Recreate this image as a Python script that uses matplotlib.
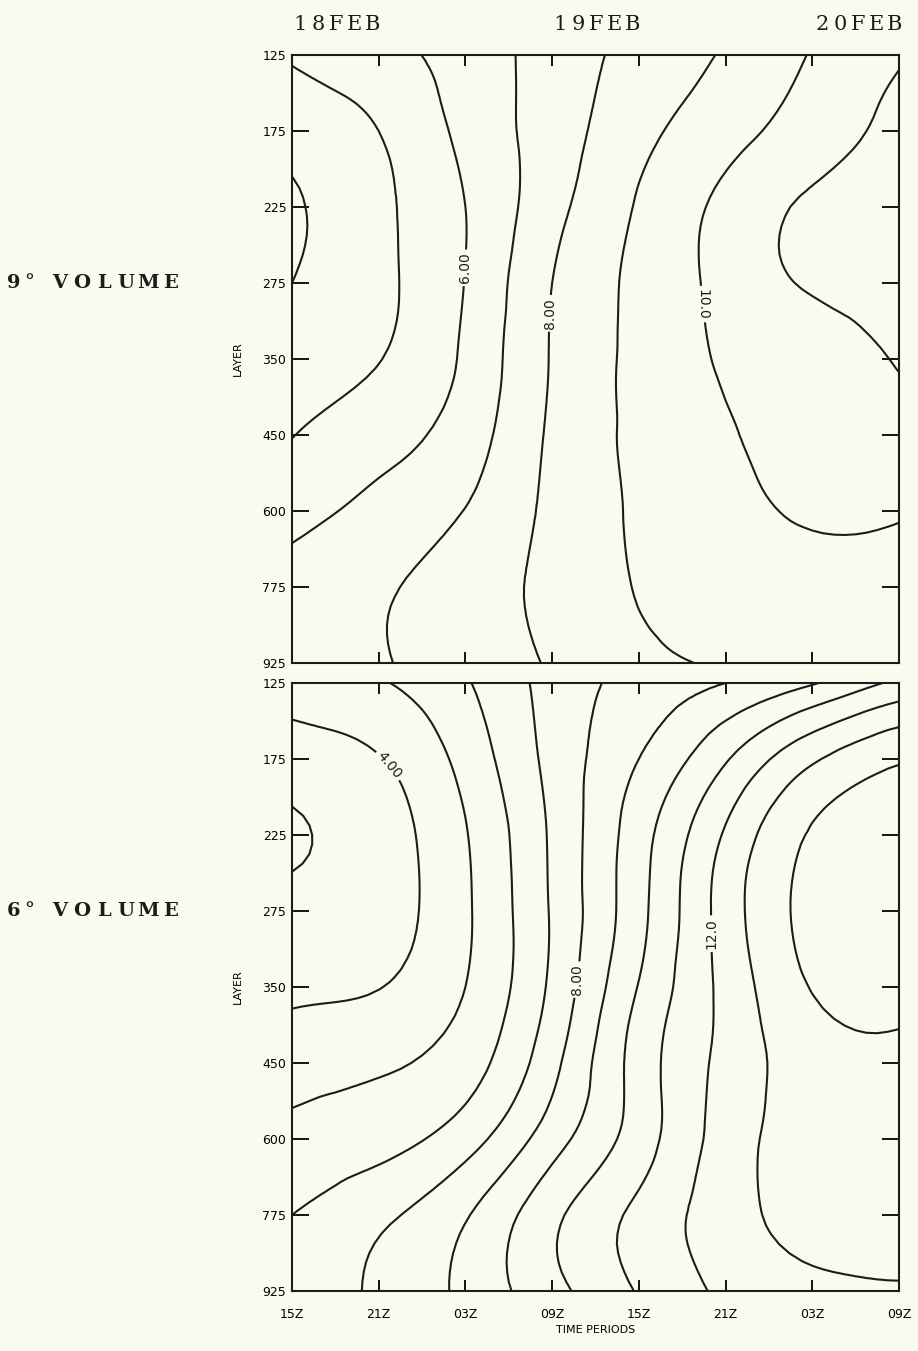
import numpy as np
import matplotlib
matplotlib.use('Agg')
import matplotlib.pyplot as plt
import matplotlib.tri as mtri

# axis labels
times = ['15Z', '21Z', '03Z', '09Z', '15Z', '21Z', '03Z', '09Z']
layers = ['125', '175', '225', '275', '350', '450', '600', '775', '925']
days = ['18FEB', '19FEB', '20FEB']

# 9 deg volume, rows = layers (top to bottom), cols = time periods
vol9 = np.array([
    [5.10, 5.66, 6.43, 7.43, 8.33, 9.10, 10.06, 10.90],
    [4.40, 5.00, 6.26, 7.49, 8.71, 9.62, 10.51, 11.30],
    [3.84, 4.79, 6.00, 7.67, 9.09, 10.26, 11.15, 11.30],
    [4.00, 4.80, 6.03, 8.00, 9.22, 10.33, 11.10, 11.30],
    [4.45, 4.97, 6.17, 8.07, 9.23, 10.13, 10.60, 11.05],
    [4.97, 5.62, 6.50, 8.16, 9.18, 9.88, 10.50, 10.70],
    [5.70, 6.27, 7.03, 8.23, 9.12, 9.65, 10.15, 10.10],
    [6.30, 6.85, 7.50, 8.27, 9.05, 9.40, 9.60, 9.60],
    [6.40, 6.90, 7.51, 8.09, 8.80, 9.06, 9.30, 9.40],
])

# 6 deg volume
vol6 = np.array([
    [4.40, 4.91, 5.90, 7.37, 8.32, 9.00, 9.91, 11.20],
    [3.55, 3.95, 5.34, 7.30, 9.00, 10.90, 12.85, 13.90],
    [2.85, 3.50, 4.94, 7.15, 9.57, 12.12, 14.10, 14.40],
    [3.30, 3.55, 4.85, 7.10, 9.70, 12.45, 14.30, 14.50],
    [3.75, 3.97, 5.00, 7.20, 10.05, 12.30, 14.05, 14.30],
    [4.65, 4.85, 5.55, 7.70, 10.43, 12.30, 13.55, 13.80],
    [5.25, 5.63, 6.56, 8.56, 10.50, 12.45, 13.50, 13.70],
    [6.00, 6.77, 7.91, 9.75, 11.24, 12.57, 13.40, 13.50],
    [6.30, 7.18, 8.25, 9.67, 11.07, 12.20, 12.70, 12.90],
])

levels9 = [4, 5, 6, 7, 8, 9, 10, 11]
levels6 = [3, 4, 5, 6, 7, 8, 9, 10, 11, 12, 13, 14]

bg = '#fbfaef'
ink = '#1c1c1c'

fig = plt.figure(figsize=(9.18, 13.51), dpi=100, facecolor=bg)
W, H = 918.0, 1351.0

def spaced(xs, y, s, **kw):
    # typewriter style text, one char at a time at given pixel x
    for x, c in zip(xs, s):
        fig.text(x / W, 1 - y / H, c, ha='center', va='center',
                 family='DejaVu Serif', color=ink, **kw)

def draw_panel(ax, z, levels, labels, rots):
    xs, ys = np.meshgrid(np.arange(len(times)), np.arange(len(layers)))
    tri = mtri.Triangulation(xs.ravel().astype(float), ys.ravel().astype(float))
    interp = mtri.CubicTriInterpolator(tri, z.ravel(), kind='min_E')
    refiner = mtri.UniformTriRefiner(tri)
    tri_r, z_r = refiner.refine_field(z.ravel(), triinterpolator=interp, subdiv=3)
    labelled = [lv for lv, s, p in labels]
    plain = [lv for lv in levels if lv not in labelled]
    ax.tricontour(tri_r, z_r, levels=plain, colors=ink, linewidths=1.5)
    # one contour set per labelled level (clabel manual needs that)
    for lv, s, p in labels:
        cs = ax.tricontour(tri_r, z_r, levels=[lv], colors=ink, linewidths=1.5)
        txts = ax.clabel(cs, fmt={lv: s}, inline=True, fontsize=10,
                         manual=[p], inline_spacing=3)
        for t in txts:
            t.set_rotation(rots[s])
    ax.set_xlim(0, len(times) - 1)
    ax.set_ylim(len(layers) - 1, 0)
    ax.set_facecolor(bg)
    ax.set_yticks(range(len(layers)))
    ax.set_yticklabels(layers, fontsize=9)
    ax.set_xticks(range(len(times)))
    ax.tick_params(axis='y', direction='in', length=12, width=1.3, right=True, pad=4)
    ax.tick_params(axis='x', direction='in', length=8, width=1.3, top=True, pad=12)
    for sp in ax.spines.values():
        sp.set_linewidth(1.5)
        sp.set_color(ink)
    ax.set_ylabel('LAYER', fontsize=8, labelpad=14)

left = 292 / W
width = (899 - 292) / W
ax1 = fig.add_axes([left, 1 - 663 / H, width, 608 / H])
ax2 = fig.add_axes([left, 1 - 1291 / H, width, 608 / H])

draw_panel(ax1, vol9, levels9,
           [(6, '6.00', (2.0, 2.8)), (8, '8.00', (3.0, 3.4)), (10, '10.0', (4.57, 3.3))],
           {'6.00': 90, '8.00': 90, '10.0': -90})
draw_panel(ax2, vol6, levels6,
           [(4, '4.00', (1.1, 1.1)), (8, '8.00', (3.27, 3.9)), (12, '12.0', (4.8, 3.3))],
           {'4.00': -50, '8.00': 90, '12.0': 90})

ax1.set_xticklabels([])
ax2.set_xticklabels(times, fontsize=9)
ax2.set_xlabel('TIME PERIODS', fontsize=8, labelpad=3)

# day labels above the top panel
pitch = 18
spaced([300 + i * pitch for i in range(5)], 24, days[0], fontsize=15)
spaced([560 + i * pitch for i in range(5)], 24, days[1], fontsize=15)
spaced([822 + i * pitch for i in range(5)], 24, days[2], fontsize=15)

# volume labels
vx = [14, 29, 60, 82, 104, 126, 148, 170]
spaced(vx, 283, '9\u00b0VOLUME', fontsize=14, weight='bold')
spaced(vx, 911, '6\u00b0VOLUME', fontsize=14, weight='bold')

fig.savefig('out.png', dpi=100, facecolor=bg)
